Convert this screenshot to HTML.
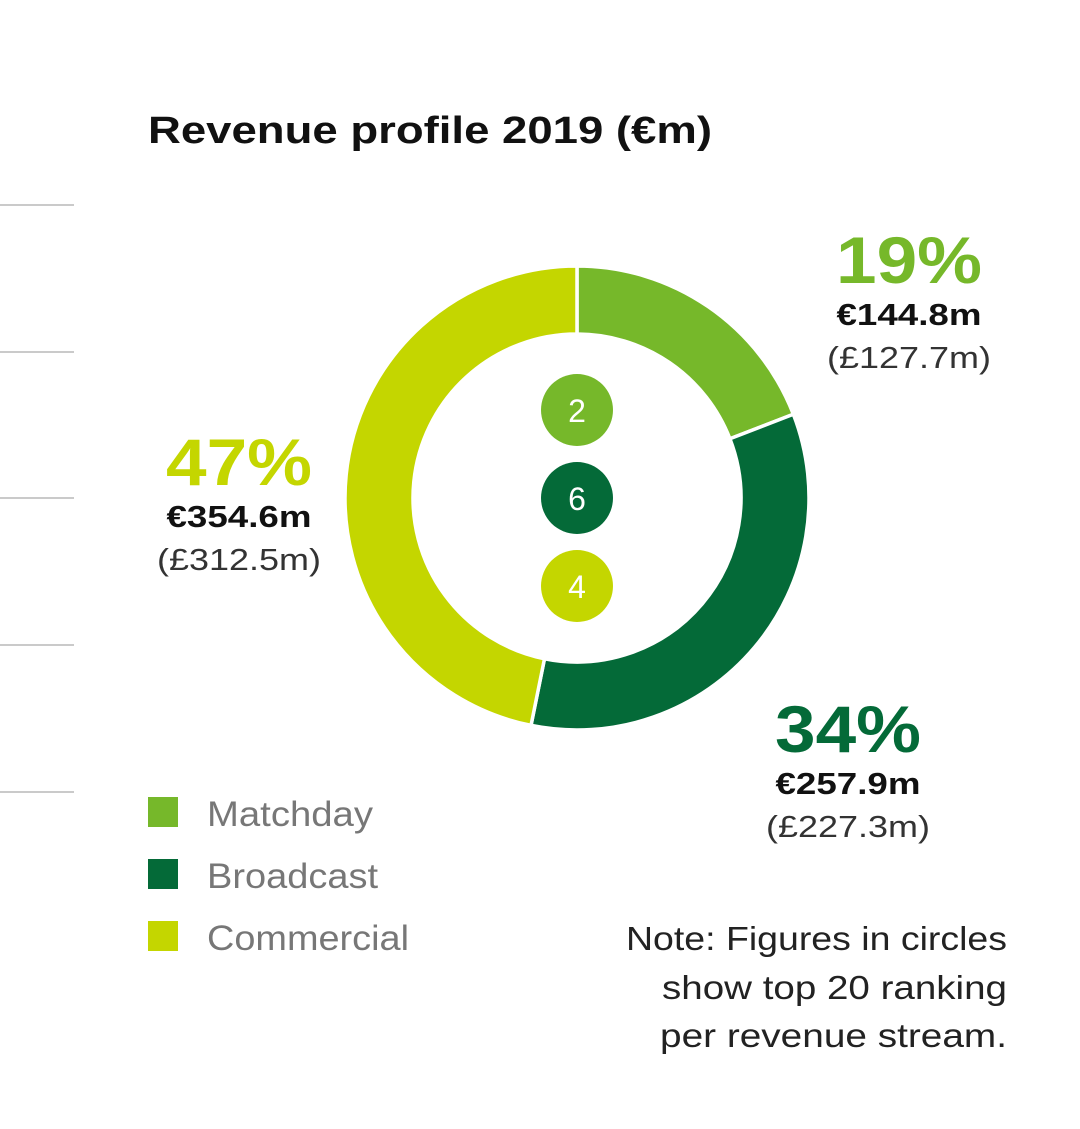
<!DOCTYPE html>
<html><head><meta charset="utf-8"><style>
html,body{margin:0;padding:0;background:#fff;}
svg{display:block;font-family:"Liberation Sans",sans-serif;}
</style></head><body>
<svg id="chart" width="1080" height="1129" viewBox="0 0 1080 1129">
<text x="148" y="143" font-size="38" font-weight="bold" fill="#111" textLength="564" lengthAdjust="spacingAndGlyphs">Revenue profile 2019 (€m)</text>
<g id="lines"></g>
<g id="donut"></g>
<g id="labels"></g>
<g id="legend"></g>
<g font-size="33" fill="#222" text-anchor="end">
<text x="1007" y="950" textLength="381" lengthAdjust="spacingAndGlyphs">Note: Figures in circles</text>
<text x="1007" y="999" textLength="345" lengthAdjust="spacingAndGlyphs">show top 20 ranking</text>
<text x="1007" y="1047" textLength="347" lengthAdjust="spacingAndGlyphs">per revenue stream.</text>
</g>
</svg>
<script>
const categories=["Matchday","Broadcast","Commercial"];
const values=[144.8,257.9,354.6];
const pctLabels=["19%","34%","47%"];
const gbpLabels=["(£127.7m)","(£227.3m)","(£312.5m)"];
const ranks=[2,6,4];
const colors=["#76b82a","#046a38","#c4d600"];
const legendWidths=[166,171,202];
const NS="http://www.w3.org/2000/svg";
function mk(tag,attrs,parent,text){const e=document.createElementNS(NS,tag);for(const k in attrs)e.setAttribute(k,attrs[k]);if(text!==undefined)e.textContent=text;parent.appendChild(e);return e;}
const lines=document.getElementById('lines');
[205,352,498,645,792].forEach(y=>{const l=mk('line',{x1:0,x2:74,y1:y,y2:y,stroke:'#aaa','stroke-width':1.3},lines);

});
const cx=577,cy=498,R=232,r=164;
const total=values.reduce((a,b)=>a+b,0);
const donut=document.getElementById('donut');
function pt(rad,a){return [cx+rad*Math.sin(a),cy-rad*Math.cos(a)];}
let acc=0;
values.forEach((v,i)=>{const a0=acc/total*2*Math.PI;acc+=v;const a1=acc/total*2*Math.PI;
const large=(a1-a0)>Math.PI?1:0;
const p0=pt(R,a0),p1=pt(R,a1),q1=pt(r,a1),q0=pt(r,a0);
const d=`M${p0}A${R},${R} 0 ${large} 1 ${p1}L${q1}A${r},${r} 0 ${large} 0 ${q0}Z`;
const p=mk('path',{d:d,fill:colors[i],stroke:'#fff','stroke-width':3.5},donut);

});
ranks.forEach((k,i)=>{const y=410+i*88;
const c=mk('circle',{cx:cx,cy:y,r:36,fill:colors[i]},donut);


const t=mk('text',{x:cx,y:y+12,'font-size':32,fill:'#fff','text-anchor':'middle'},donut,String(k));

});
const labels=document.getElementById('labels');
const pos=[[909,283],[848,752],[239,485]];
values.forEach((v,i)=>{const [x,y]=pos[i];
const g=mk('g',{'text-anchor':'middle'},labels);


mk('text',{x:x,y:y,'font-size':66,'font-weight':'bold',fill:colors[i],textLength:146,lengthAdjust:'spacingAndGlyphs'},g,pctLabels[i]);
mk('text',{x:x,y:y+42,'font-size':31,'font-weight':'bold',fill:'#111',textLength:145,lengthAdjust:'spacingAndGlyphs'},g,'€'+v.toFixed(1)+'m');
mk('text',{x:x,y:y+85,'font-size':31,fill:'#333',textLength:164,lengthAdjust:'spacingAndGlyphs'},g,gbpLabels[i]);});
const legend=document.getElementById('legend');
categories.forEach((c,i)=>{const y=797+i*62;
const g=mk('g',{},legend);


mk('rect',{x:148,y:y,width:30,height:30,fill:colors[i]},g);
mk('text',{x:207,y:y+29,'font-size':35,fill:'#777',textLength:legendWidths[i],lengthAdjust:'spacingAndGlyphs'},g,c);});
</script>
</body></html>
